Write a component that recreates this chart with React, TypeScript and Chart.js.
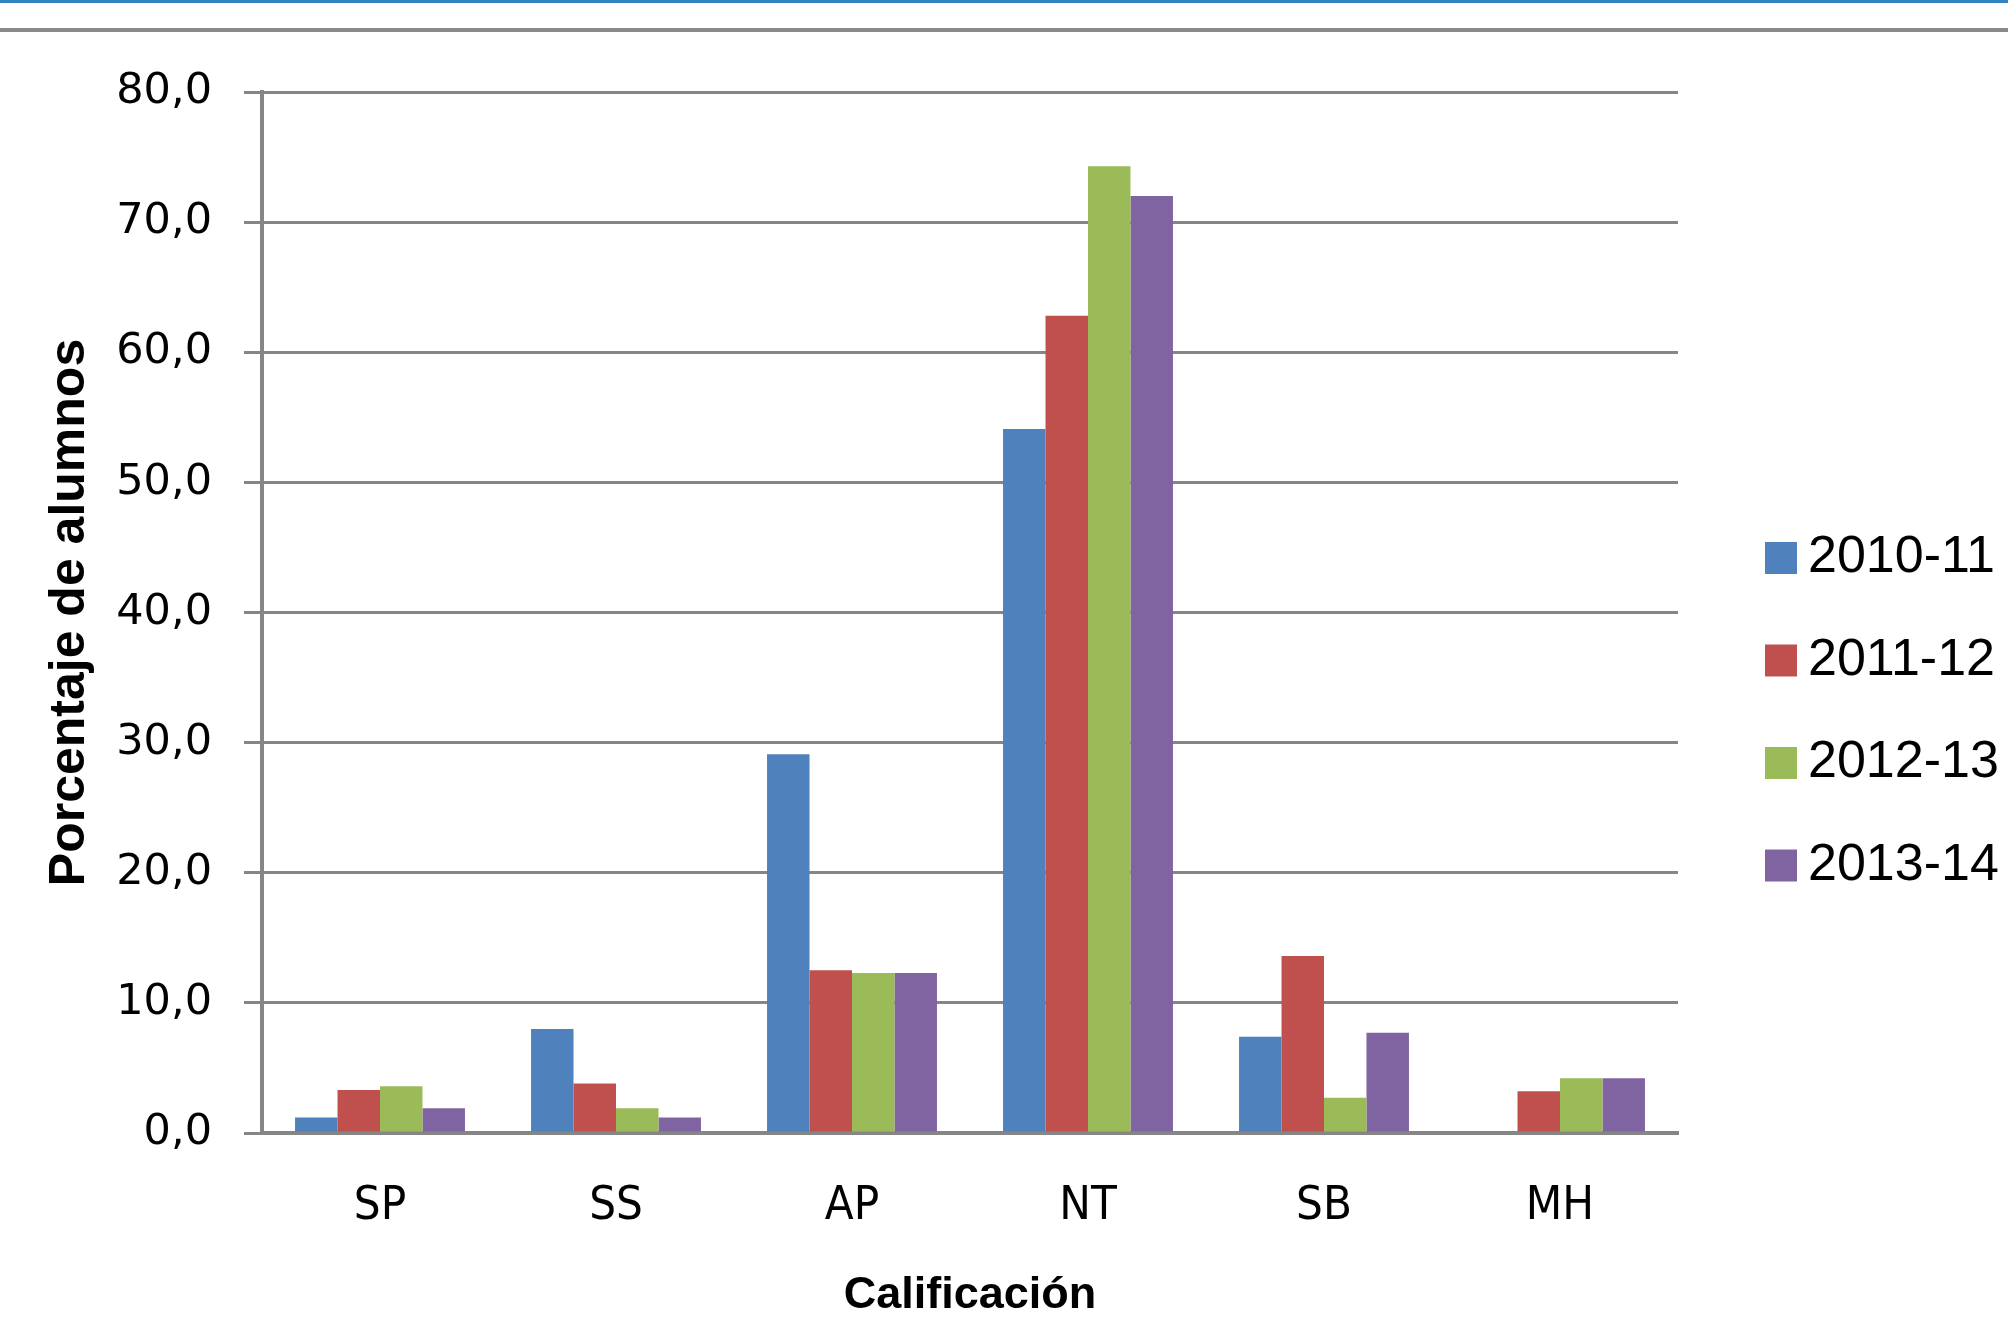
import React, { useEffect, useRef } from "react";
import { Chart, registerables } from "chart.js";

Chart.register(...registerables);

const categories = ["SP", "SS", "AP", "NT", "SB", "MH"];
const seriesLabels = ["2010-11", "2011-12", "2012-13", "2013-14"];
const series2010 = [1.2, 8.0, 29.1, 54.1, 7.4, null];
const series2011 = [3.3, 3.8, 12.5, 62.8, 13.6, 3.2];
const series2012 = [3.6, 1.9, 12.3, 74.3, 2.7, 4.2];
const series2013 = [1.9, 1.2, 12.3, 72.0, 7.7, 4.2];
const seriesColors = ["#4F81BD", "#C0504D", "#9BBB59", "#8064A2"];
const yTickLabels = ["0,0", "10,0", "20,0", "30,0", "40,0", "50,0", "60,0", "70,0", "80,0"];
const yTitle = "Porcentaje de alumnos";
const xTitle = "Calificación";

const W = 2008;
const H = 1327;
const AREA_LEFT = 262;
const AREA_TOP = 92;
const AREA_BOTTOM = 1133;
const AREA_RIGHT = 1678;
const GRID = "#868686";

const legendPlugin = {
  id: "sideLegend",
  afterDraw(chart: any) {
    const ctx = chart.ctx;
    const area = chart.chartArea;
    const ds = chart.data.datasets;
    const boxX = area.right + 87;
    const textX = area.right + 130;
    const startY = 558;
    const step = 102.5;
    const box = 32;
    ctx.save();
    ctx.font = "52px 'Liberation Sans', Arial, sans-serif";
    ctx.textBaseline = "middle";
    ctx.textAlign = "left";
    ds.forEach((d: any, i: number) => {
      const cy = startY + i * step;
      ctx.fillStyle = d.backgroundColor;
      ctx.fillRect(boxX, cy - box / 2, box, box);
      ctx.fillStyle = "#000";
      ctx.fillText(d.label, textX, cy);
    });
    ctx.restore();
  },
};

export default function App() {
  const ref = useRef<HTMLCanvasElement | null>(null);

  useEffect(() => {
    if (!ref.current) return;
    const values = [series2010, series2011, series2012, series2013];
    const chart = new Chart(ref.current, {
      type: "bar",
      data: {
        labels: categories,
        datasets: seriesLabels.map((label, i) => ({
          label,
          data: values[i],
          backgroundColor: seriesColors[i],
          borderWidth: 0,
          categoryPercentage: 0.72,
          barPercentage: 1,
        })),
      },
      options: {
        animation: false,
        responsive: false,
        devicePixelRatio: 1,
        layout: {
          padding: { left: 0, top: AREA_TOP, right: W - AREA_RIGHT, bottom: 0 },
        },
        plugins: {
          legend: { display: false },
          tooltip: { enabled: false },
          title: { display: false },
        },
        scales: {
          x: {
            grid: { display: false, drawTicks: false },
            border: { display: true, color: GRID, width: 4 },
            ticks: {
              color: "#000",
              padding: 46,
              font: { family: "'DejaVu Sans Condensed', 'Liberation Sans Narrow', 'Liberation Sans', Arial, sans-serif", size: 47 },
            },
            title: {
              display: true,
              text: xTitle,
              color: "#000",
              padding: { top: 0, bottom: 4 },
              font: { family: "'Liberation Sans', Arial, sans-serif", size: 45, weight: "bold" },
            },
            afterFit: (scale: any) => {
              scale.height = H - AREA_BOTTOM;
            },
          },
          y: {
            min: 0,
            max: 80,
            ticks: {
              stepSize: 10,
              color: "#000",
              padding: 32,
              font: { family: "'DejaVu Sans', sans-serif", size: 43 },
              callback: (_v: any, idx: number) => yTickLabels[idx],
            },
            grid: { color: GRID, lineWidth: 3, tickLength: 18, drawTicks: true },
            border: { display: true, color: GRID, width: 4 },
            title: {
              display: true,
              text: yTitle,
              color: "#000",
              padding: { top: 40, bottom: 0 },
              font: { family: "'Liberation Sans', Arial, sans-serif", size: 50, weight: "bold" },
            },
            afterFit: (scale: any) => {
              scale.width = AREA_LEFT;
            },
          },
        },
      },
      plugins: [legendPlugin],
    });
    return () => chart.destroy();
  }, []);

  return (
    <div style={{ position: "fixed", left: 0, top: 0, width: W, height: H, background: "#fff" }}>
      <canvas ref={ref} width={W} height={H} style={{ position: "absolute", left: 0, top: 0, width: W, height: H }} />
      <div style={{ position: "absolute", left: 0, top: 0, width: W, height: 3, background: "#3184c2" }} />
      <div style={{ position: "absolute", left: 0, top: 28, width: W, height: 4, background: "#8a8a8a" }} />
    </div>
  );
}
